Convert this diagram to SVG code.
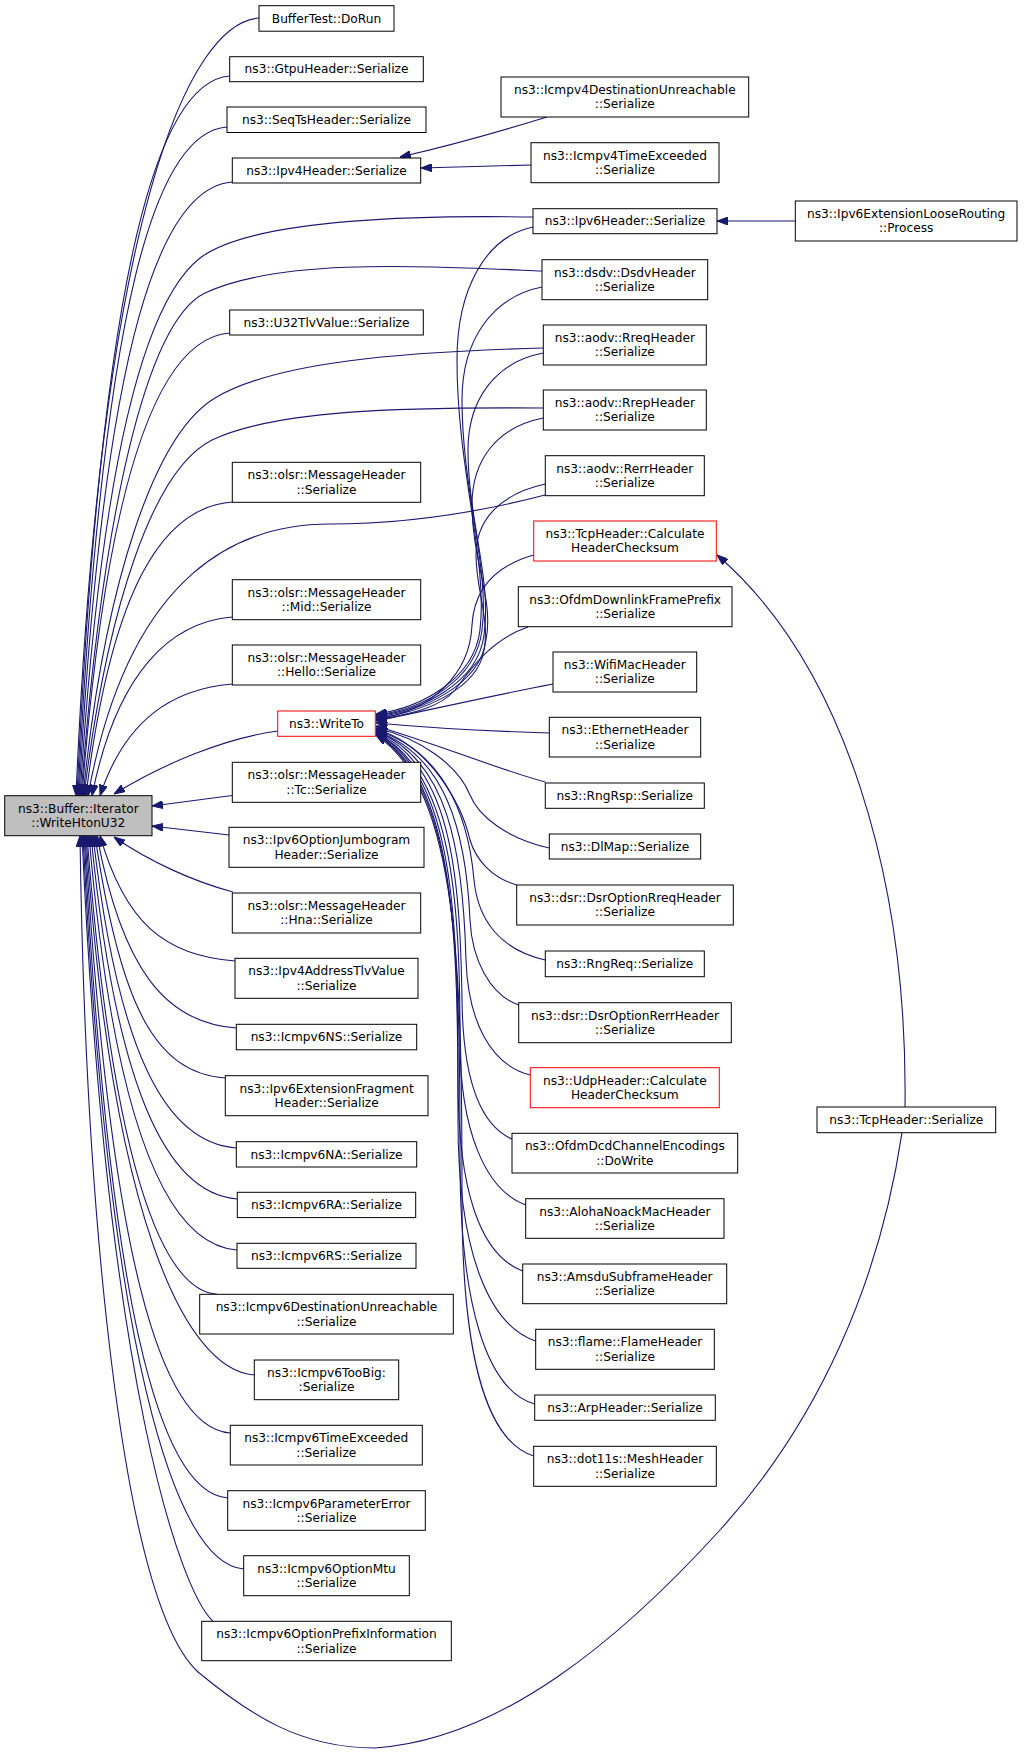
<svg xmlns="http://www.w3.org/2000/svg" width="1035" height="1754" viewBox="0 0 1035 1754">
<defs>
<marker id="arr" viewBox="0 0 11 8" refX="11" refY="4" markerWidth="11" markerHeight="8" markerUnits="userSpaceOnUse" orient="auto">
<path d="M0,0 L11,4 L0,8 z" fill="#191970" stroke="#191970" stroke-width="1"/>
</marker>
<style>
.node rect{fill:#ffffff;stroke:#000000;stroke-width:1}
.node.red rect{stroke:#ff0000}
.node.main rect{fill:#bfbfbf}
.node text{font-family:"DejaVu Sans","Liberation Sans",sans-serif;font-size:12.2px;text-anchor:middle;fill:#000000}
#edges path{fill:none;stroke:#191970;stroke-width:1.1;marker-end:url(#arr)}
</style>
</defs>
<rect x="0" y="0" width="1035" height="1754" fill="#ffffff"/>
<g id="edges">
<path d="M259,18 C189,23 101,212 76,795.7"/>
<path d="M229.7,76 C160,81 102,256 77,795.7"/>
<path d="M227,127 C157,132 103,294 78,795.7"/>
<path d="M232.3,182 C162,187 104,335 79,795.7"/>
<path d="M533,217 C350,214 240,228 200,258 C140,305 100,480 80,795.7"/>
<path d="M542,271 C420,266 280,258 205,293 C145,322 102,520 81,795.7"/>
<path d="M229.7,333 C160,338 107,472 82,795.7"/>
<path d="M543,348 C400,352 275,362 215,398 C155,434 105,580 83,795.7"/>
<path d="M543,408 C400,407 275,410 212,440 C152,470 107,610 84,795.7"/>
<path d="M232.3,502 C162,507 111,590 86,795.7"/>
<path d="M545,495 C480,512 410,524 330,524 C245,524 130,565 88,795.7"/>
<path d="M232.3,617 C172,622 117,670 92,795.7"/>
<path d="M232.3,684 C172,689 125,720 100,795.7"/>
<path d="M278,731 C225,738 165,763 114,794"/>
<path d="M232.3,795.5 L152,806"/>
<path d="M229,835 L152,826"/>
<path d="M233,892 C195,882 150,862 114,837"/>
<path d="M235,961 C165,956 125,923 100,835.7"/>
<path d="M236.3,1028 C166,1023 122,970 97,835.7"/>
<path d="M225.3,1078 C155,1073 120,1005 95,835.7"/>
<path d="M236.3,1148 C166,1143 118,1054 93,835.7"/>
<path d="M237.3,1199 C167,1194 116,1090 91,835.7"/>
<path d="M237,1250 C167,1245 114,1126 89,835.7"/>
<path d="M217,1294.3 C160,1290 112,1157 87,835.7"/>
<path d="M254.3,1375 C184,1370 111,1213 86,835.7"/>
<path d="M230.3,1433 C160,1428 110,1254 85,835.7"/>
<path d="M227.7,1498 C158,1493 109,1299 84,835.7"/>
<path d="M243.7,1569 C174,1564 108,1349 83,835.7"/>
<path d="M213,1621.3 C180,1590 107,1385 82,835.7"/>
<path d="M902,1132.7 C880,1280 820,1420 720,1530 C620,1640 500,1740 375,1748 C300,1748 250,1715 198,1672 C120,1600 85,1200 80,835.7"/>
<path d="M547,117 C510,128 470,141 400,157"/>
<path d="M531,165 L421,168"/>
<path d="M795.3,221 L717,221"/>
<path d="M905,1107 C908,880 845,665 717,555"/>
<path d="M533,227 C485,237 457,290 457,360 C457,470 488,560 480,630 C474,680 420,708 376,714"/>
<path d="M542,287 C492,297 462,340 462,400 C462,490 490,570 482,630 C476,682 420,710 376,715"/>
<path d="M543.3,353 C495,362 468,400 468,450 C468,520 492,580 484,635 C478,684 420,711 376,716"/>
<path d="M543.3,418 C497,427 472,460 472,505 C472,560 494,600 486,640 C480,686 420,712 376,717"/>
<path d="M545.3,484 C500,494 476,520 476,555 C476,590 490,620 484,650 C478,690 420,713 376,718"/>
<path d="M533.7,555 C495,566 474,590 472,625 C470,675 430,712 376,719"/>
<path d="M528,627 C490,640 470,670 455,690 C440,708 410,714 376,720"/>
<path d="M553,684 C490,696 420,712 376,721"/>
<path d="M549.3,733 C480,731 420,727 376,723"/>
<path d="M545.3,782 C500,770 440,745 376,726"/>
<path d="M549.3,848 C505,838 478,815 470,795 C458,765 420,738 376,728"/>
<path d="M516.7,885 C492,878 476,860 470,840 C462,805 430,745 376,729"/>
<path d="M545.3,960 C500,950 478,920 474,880 C468,810 440,750 376,730"/>
<path d="M518.7,1005 C490,995 472,960 470,920 C466,830 445,755 376,731"/>
<path d="M530.3,1075 C490,1065 468,1020 466,960 C463,850 448,760 376,731"/>
<path d="M512,1139 C480,1125 463,1080 462,1000 C460,870 450,765 376,732"/>
<path d="M525.7,1205 C485,1190 460,1130 460,1040 C460,900 452,770 376,733"/>
<path d="M522.7,1271 C480,1255 458,1190 458,1080 C458,920 454,775 376,733"/>
<path d="M535.7,1341 C488,1325 458,1250 458,1120 C458,940 456,780 376,734"/>
<path d="M534.7,1404 C485,1390 460,1300 460,1160 C460,960 458,785 376,734"/>
<path d="M533.7,1456 C482,1440 462,1340 462,1200 C462,980 460,790 376,735"/>
</g>
<g id="n_main" class="node main"><rect x="4.7" y="795.7" width="147.3" height="40"/><text x="78.35" y="812.75">ns3::Buffer::Iterator</text><text x="78.35" y="827.05">::WriteHtonU32</text></g>
<g id="n_buffertest" class="node"><rect x="259" y="5.7" width="135" height="25.5"/><text x="326.5" y="22.65">BufferTest::DoRun</text></g>
<g id="n_gtpu" class="node"><rect x="229.7" y="56.7" width="193.6" height="25"/><text x="326.5" y="73.4">ns3::GtpuHeader::Serialize</text></g>
<g id="n_seqts" class="node"><rect x="227" y="107" width="199" height="25.5"/><text x="326.5" y="124">ns3::SeqTsHeader::Serialize</text></g>
<g id="n_ipv4" class="node"><rect x="232.3" y="158" width="188.4" height="25"/><text x="326.5" y="174.7">ns3::Ipv4Header::Serialize</text></g>
<g id="n_u32" class="node"><rect x="229.7" y="310" width="193.6" height="25"/><text x="326.5" y="326.7">ns3::U32TlvValue::Serialize</text></g>
<g id="n_olsrmsg" class="node"><rect x="232.3" y="462.3" width="188.4" height="40"/><text x="326.5" y="479.35">ns3::olsr::MessageHeader</text><text x="326.5" y="493.65">::Serialize</text></g>
<g id="n_mid" class="node"><rect x="232.3" y="579.7" width="188.4" height="40"/><text x="326.5" y="596.75">ns3::olsr::MessageHeader</text><text x="326.5" y="611.05">::Mid::Serialize</text></g>
<g id="n_hello" class="node"><rect x="232.3" y="645" width="188.4" height="40"/><text x="326.5" y="662.05">ns3::olsr::MessageHeader</text><text x="326.5" y="676.35">::Hello::Serialize</text></g>
<g id="n_writeto" class="node red"><rect x="277.7" y="711" width="97.6" height="25.3"/><text x="326.5" y="727.85">ns3::WriteTo</text></g>
<g id="n_tc" class="node"><rect x="232.3" y="762.3" width="188.4" height="40"/><text x="326.5" y="779.35">ns3::olsr::MessageHeader</text><text x="326.5" y="793.65">::Tc::Serialize</text></g>
<g id="n_jumbo" class="node"><rect x="229" y="827.3" width="195" height="40"/><text x="326.5" y="844.35">ns3::Ipv6OptionJumbogram</text><text x="326.5" y="858.65">Header::Serialize</text></g>
<g id="n_hna" class="node"><rect x="232.3" y="893" width="188.4" height="40"/><text x="326.5" y="910.05">ns3::olsr::MessageHeader</text><text x="326.5" y="924.35">::Hna::Serialize</text></g>
<g id="n_ipv4addr" class="node"><rect x="235" y="958.3" width="183" height="40"/><text x="326.5" y="975.35">ns3::Ipv4AddressTlvValue</text><text x="326.5" y="989.65">::Serialize</text></g>
<g id="n_ns" class="node"><rect x="236.3" y="1024.3" width="180.4" height="25.5"/><text x="326.5" y="1041.25">ns3::Icmpv6NS::Serialize</text></g>
<g id="n_frag" class="node"><rect x="225.3" y="1075.7" width="202.7" height="40"/><text x="326.65" y="1092.75">ns3::Ipv6ExtensionFragment</text><text x="326.65" y="1107.05">Header::Serialize</text></g>
<g id="n_na" class="node"><rect x="236.3" y="1141.7" width="180.4" height="25.3"/><text x="326.5" y="1158.55">ns3::Icmpv6NA::Serialize</text></g>
<g id="n_ra" class="node"><rect x="237.3" y="1192.3" width="178.4" height="25.3"/><text x="326.5" y="1209.15">ns3::Icmpv6RA::Serialize</text></g>
<g id="n_rs" class="node"><rect x="237" y="1243.3" width="179" height="25"/><text x="326.5" y="1260">ns3::Icmpv6RS::Serialize</text></g>
<g id="n_destunr6" class="node"><rect x="199.7" y="1294.3" width="253.6" height="39.7"/><text x="326.5" y="1311.35">ns3::Icmpv6DestinationUnreachable</text><text x="326.5" y="1325.65">::Serialize</text></g>
<g id="n_toobig" class="node"><rect x="254.3" y="1360" width="144.4" height="39.7"/><text x="326.5" y="1377.05">ns3::Icmpv6TooBig:</text><text x="326.5" y="1391.35">:Serialize</text></g>
<g id="n_timeex6" class="node"><rect x="230.3" y="1425.3" width="192" height="39.7"/><text x="326.3" y="1442.35">ns3::Icmpv6TimeExceeded</text><text x="326.3" y="1456.65">::Serialize</text></g>
<g id="n_paramerr" class="node"><rect x="227.7" y="1490.7" width="197.6" height="39.6"/><text x="326.5" y="1507.75">ns3::Icmpv6ParameterError</text><text x="326.5" y="1522.05">::Serialize</text></g>
<g id="n_optmtu" class="node"><rect x="243.7" y="1555.7" width="165.6" height="40"/><text x="326.5" y="1572.75">ns3::Icmpv6OptionMtu</text><text x="326.5" y="1587.05">::Serialize</text></g>
<g id="n_prefix" class="node"><rect x="201.7" y="1621.3" width="249.6" height="39.4"/><text x="326.5" y="1638.35">ns3::Icmpv6OptionPrefixInformation</text><text x="326.5" y="1652.65">::Serialize</text></g>
<g id="n_destunr4" class="node"><rect x="501" y="77" width="247.7" height="40"/><text x="624.85" y="94.05">ns3::Icmpv4DestinationUnreachable</text><text x="624.85" y="108.35">::Serialize</text></g>
<g id="n_timeex4" class="node"><rect x="531" y="142.7" width="188" height="40"/><text x="625" y="159.75">ns3::Icmpv4TimeExceeded</text><text x="625" y="174.05">::Serialize</text></g>
<g id="n_ipv6" class="node"><rect x="533" y="208.7" width="184" height="25"/><text x="625" y="225.4">ns3::Ipv6Header::Serialize</text></g>
<g id="n_dsdv" class="node"><rect x="542" y="259.7" width="165.7" height="40"/><text x="624.85" y="276.75">ns3::dsdv::DsdvHeader</text><text x="624.85" y="291.05">::Serialize</text></g>
<g id="n_rreq" class="node"><rect x="543.3" y="325" width="163" height="40"/><text x="624.8" y="342.05">ns3::aodv::RreqHeader</text><text x="624.8" y="356.35">::Serialize</text></g>
<g id="n_rrep" class="node"><rect x="543.3" y="390" width="163" height="40"/><text x="624.8" y="407.05">ns3::aodv::RrepHeader</text><text x="624.8" y="421.35">::Serialize</text></g>
<g id="n_rerr" class="node"><rect x="545.3" y="455.7" width="159" height="40"/><text x="624.8" y="472.75">ns3::aodv::RerrHeader</text><text x="624.8" y="487.05">::Serialize</text></g>
<g id="n_tcpcalc" class="node red"><rect x="533.7" y="521" width="182.6" height="40"/><text x="625" y="538.05">ns3::TcpHeader::Calculate</text><text x="625" y="552.35">HeaderChecksum</text></g>
<g id="n_ofdmdl" class="node"><rect x="518.3" y="586.7" width="213.7" height="40"/><text x="625.15" y="603.75">ns3::OfdmDownlinkFramePrefix</text><text x="625.15" y="618.05">::Serialize</text></g>
<g id="n_wifimac" class="node"><rect x="553" y="652" width="143.7" height="40"/><text x="624.85" y="669.05">ns3::WifiMacHeader</text><text x="624.85" y="683.35">::Serialize</text></g>
<g id="n_ethernet" class="node"><rect x="549.3" y="717.3" width="151.4" height="39.7"/><text x="625" y="734.35">ns3::EthernetHeader</text><text x="625" y="748.65">::Serialize</text></g>
<g id="n_rngrsp" class="node"><rect x="545.3" y="783" width="159" height="25.3"/><text x="624.8" y="799.85">ns3::RngRsp::Serialize</text></g>
<g id="n_dlmap" class="node"><rect x="549.3" y="834" width="151.4" height="25"/><text x="625" y="850.7">ns3::DlMap::Serialize</text></g>
<g id="n_dsrrreq" class="node"><rect x="516.7" y="885" width="216.6" height="40"/><text x="625" y="902.05">ns3::dsr::DsrOptionRreqHeader</text><text x="625" y="916.35">::Serialize</text></g>
<g id="n_rngreq" class="node"><rect x="545.3" y="951" width="159" height="25.7"/><text x="624.8" y="968.05">ns3::RngReq::Serialize</text></g>
<g id="n_dsrrerr" class="node"><rect x="518.7" y="1002.7" width="212.6" height="40"/><text x="625" y="1019.75">ns3::dsr::DsrOptionRerrHeader</text><text x="625" y="1034.05">::Serialize</text></g>
<g id="n_udpcalc" class="node red"><rect x="530.3" y="1067.7" width="189" height="40"/><text x="624.8" y="1084.75">ns3::UdpHeader::Calculate</text><text x="624.8" y="1099.05">HeaderChecksum</text></g>
<g id="n_ofdmdcd" class="node"><rect x="512" y="1133.3" width="225.7" height="39.7"/><text x="624.85" y="1150.35">ns3::OfdmDcdChannelEncodings</text><text x="624.85" y="1164.65">::DoWrite</text></g>
<g id="n_aloha" class="node"><rect x="525.7" y="1198.7" width="198.3" height="39.6"/><text x="624.85" y="1215.75">ns3::AlohaNoackMacHeader</text><text x="624.85" y="1230.05">::Serialize</text></g>
<g id="n_amsdu" class="node"><rect x="522.7" y="1264" width="204" height="39.7"/><text x="624.7" y="1281.05">ns3::AmsduSubframeHeader</text><text x="624.7" y="1295.35">::Serialize</text></g>
<g id="n_flame" class="node"><rect x="535.7" y="1329.3" width="178.6" height="40"/><text x="625" y="1346.35">ns3::flame::FlameHeader</text><text x="625" y="1360.65">::Serialize</text></g>
<g id="n_arp" class="node"><rect x="534.7" y="1395" width="180.6" height="25.3"/><text x="625" y="1411.85">ns3::ArpHeader::Serialize</text></g>
<g id="n_mesh" class="node"><rect x="533.7" y="1446.3" width="182.6" height="40"/><text x="625" y="1463.35">ns3::dot11s::MeshHeader</text><text x="625" y="1477.65">::Serialize</text></g>
<g id="n_loose" class="node"><rect x="795.3" y="201" width="221.7" height="40"/><text x="906.15" y="218.05">ns3::Ipv6ExtensionLooseRouting</text><text x="906.15" y="232.35">::Process</text></g>
<g id="n_tcpser" class="node"><rect x="817" y="1107" width="178.7" height="25.7"/><text x="906.35" y="1124.05">ns3::TcpHeader::Serialize</text></g>
</svg>
